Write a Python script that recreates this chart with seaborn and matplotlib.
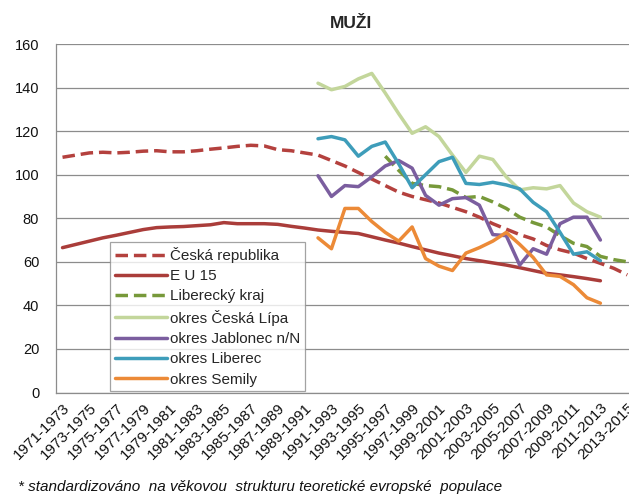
import matplotlib
matplotlib.use("Agg")
import matplotlib.pyplot as plt
import numpy as np
import pandas as pd
import seaborn as sns

# Three-year periods 1971-1973 ... 2013-2015
periods = [f"{y}-{y + 2}" for y in range(1971, 2014)]

# Standardised mortality, men (per 100 000)
ceska_republika = [108, 109, 110, 110.3, 110, 110.3, 110.8, 111, 110.5, 110.5,
                   111, 111.7, 112.3, 113, 113.5, 113.2, 111.5, 111, 110, 109,
                   106.5, 104, 101, 98, 95, 92, 90, 88.5, 87, 85,
                   83, 80.5, 77.5, 75, 72.5, 70.5, 67.5, 65.5, 64, 61.5,
                   59.3, 57, 54]
eu15 = [66.5, 68, 69.5, 71, 72.2, 73.5, 74.8, 75.7, 76, 76.2,
        76.6, 77, 78, 77.5, 77.5, 77.5, 77.2, 76.3, 75.5, 74.6,
        74, 73.5, 73, 71.5, 70, 68.6, 67, 65.5, 64, 62.8,
        61.5, 60.5, 59.5, 58.5, 57.3, 56, 54.7, 54, 53.2, 52.3,
        51.3]
liberecky_kraj = [108.5, 102, 96, 95, 94.5, 93, 89.5, 90, 87.5, 84.5,
                  80.5, 78, 76, 72, 68.5, 67, 62.5, 61, 60]
ceska_lipa = [142, 139, 140.5, 144, 146.5, 137.5, 128, 119, 122, 117.5,
              109, 101, 108.5, 107, 99, 93, 94, 93.5, 95, 87,
              83, 80.5]
jablonec = [99.5, 90, 95, 94.5, 99, 104, 106.5, 103, 90.5, 86,
            89, 89.5, 86, 72.5, 72, 58.5, 66, 63.5, 77.5, 80.5,
            80.5, 70]
liberec = [116.5, 117.5, 116, 108.5, 113, 115, 105, 94, 100, 106,
           108, 96, 95.5, 96.5, 95.3, 93.5, 87.3, 83, 73.5, 63.5,
           64.6, 60.5]
semily = [71, 66, 84.5, 84.5, 78.5, 73.5, 69.5, 76, 61.5, 58,
          56, 64, 66.5, 69.5, 73.5, 68, 62, 54, 53.3, 49.5,
          43.5, 41]

series = [
    ("Česká republika", ceska_republika, periods[0]),
    ("E U 15", eu15, periods[0]),
    ("Liberecký kraj", liberecky_kraj, periods[24]),
    ("okres Česká Lípa", ceska_lipa, periods[19]),
    ("okres Jablonec n/N", jablonec, periods[19]),
    ("okres Liberec", liberec, periods[19]),
    ("okres Semily", semily, periods[19]),
]

rows = []
for name, values, first in series:
    start = periods.index(first)
    for k, v in enumerate(values):
        rows.append({"series": name, "pos": start + k, "value": v})
df = pd.DataFrame(rows)

names = [s[0] for s in series]
palette = {
    "Česká republika": "#B4413E",
    "E U 15": "#AA3D3A",
    "Liberecký kraj": "#77993A",
    "okres Česká Lípa": "#C3D69B",
    "okres Jablonec n/N": "#7B5E9F",
    "okres Liberec": "#3E9DBA",
    "okres Semily": "#EC8A37",
}
dashes = {
    "Česká republika": (3.6, 1.7),
    "E U 15": "",
    "Liberecký kraj": (3.6, 1.7),
    "okres Česká Lípa": "",
    "okres Jablonec n/N": "",
    "okres Liberec": "",
    "okres Semily": "",
}

sns.set_theme(style="white")
plt.rcParams["font.family"] = ["Liberation Sans", "DejaVu Sans"]

W, H = 629, 496
fig = plt.figure(figsize=(W / 100, H / 100), dpi=100)
left, right, top, bottom = 55.8, 634.0, 44.0, 392.5
ax = fig.add_axes([left / W, 1 - bottom / H, (right - left) / W, (bottom - top) / H])

sns.lineplot(data=df, x="pos", y="value", hue="series", style="series",
             hue_order=names, style_order=names, palette=palette,
             dashes=dashes, linewidth=2.5, ax=ax, legend=True)

ax.set_xlim(-0.5, len(periods) - 0.5)
ax.set_ylim(0, 160)
ax.set_yticks(np.arange(0, 161, 20))
ax.yaxis.grid(True, color="#8C8C8C", linewidth=0.9)
ax.xaxis.grid(False)
ax.set_axisbelow(True)

for side in ("top", "right"):
    ax.spines[side].set_visible(False)
for side in ("left", "bottom"):
    ax.spines[side].set_color("#8C8C8C")
    ax.spines[side].set_linewidth(0.9)

label_pos = list(range(0, len(periods), 2))
ax.set_xticks(label_pos)
ax.set_xticklabels([periods[i] for i in label_pos], rotation=45,
                   ha="right", va="top", rotation_mode="anchor")
ax.set_xticks(np.arange(-0.5, len(periods) + 0.5, 1), minor=True)
ax.tick_params(axis="x", which="major", length=0, pad=6, labelsize=11,
               labelcolor="#111111")
ax.tick_params(axis="x", which="minor", length=5, width=0.9,
               color="#8C8C8C", direction="out")
ax.tick_params(axis="y", length=0, pad=12, labelsize=10.5, labelcolor="#111111")
ax.set_xlabel("")
ax.set_ylabel("")

handles, labels = ax.get_legend_handles_labels()
leg = ax.legend(handles, labels, loc="lower left",
                bbox_to_anchor=(0.094, 0.004), frameon=True, fancybox=False,
                edgecolor="#8C8C8C", fontsize=11, handlelength=3.4,
                handletextpad=0.25, labelspacing=0.41, borderpad=0.3,
                borderaxespad=0)
leg.get_frame().set_linewidth(0.9)
for line in leg.get_lines():
    line.set_linewidth(2.5)

fig.text(351 / W, 1 - 23 / H, "MUŽI", ha="center", va="center",
         fontsize=12.5, fontweight="bold")
fig.text(18 / W, 1 - 487 / H,
         "* standardizováno  na věkovou  strukturu teoretické evropské  populace",
         ha="left", va="center", fontsize=11, style="italic", color="#111111")

fig.savefig("out.png", dpi=100)
